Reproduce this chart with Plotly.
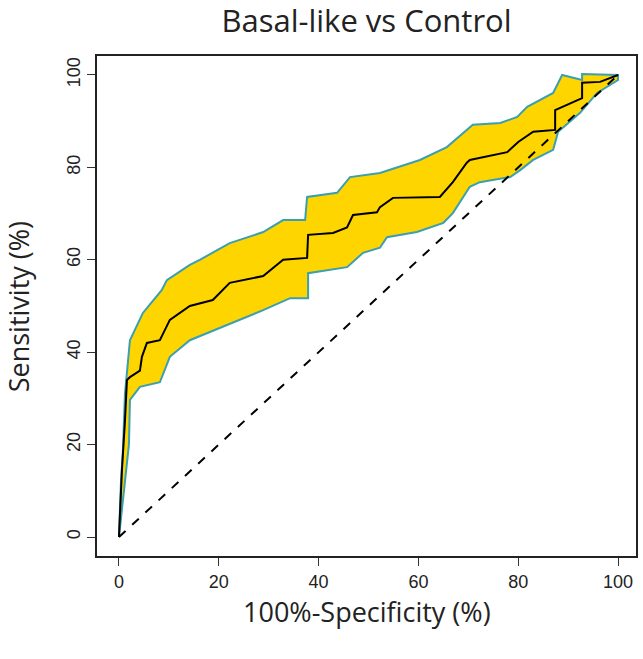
import plotly.graph_objects as go

# ROC curve (100%-specificity, sensitivity)
roc_x = [0, 0.6, 1.2, 1.6, 2.2, 4.2, 4.6, 5.6, 8.2, 10.2, 14.2, 18.8, 22.2, 28.9,
         32.9, 37.7, 37.9, 42.9, 45.7, 46.9, 51.7, 52.3, 54.9, 64.3, 66.9, 69.7,
         70.3, 77.8, 80.0, 83.0, 87.4, 87.4, 92.8, 92.8, 96.4, 100]
roc_y = [0, 14.5, 25, 34, 34.6, 36, 39, 42, 42.6, 47, 50, 51.3, 55, 56.5,
         60, 60.4, 65.4, 65.8, 67, 69.7, 70.3, 71.4, 73.4, 73.6, 76.8, 81,
         81.6, 83.3, 85.5, 87.7, 88.1, 92.4, 95, 98.3, 98.5, 100]

# confidence band, upper edge
up_x = [0, 0.4, 0.8, 1.2, 2.2, 4.2, 4.8, 5.8, 8.6, 9.6, 14.2, 16.2, 22.2, 28.9,
        32.9, 37.3, 37.7, 43.7, 46.3, 52.3, 60.3, 65.7, 69.7, 70.9, 76.4, 79.8,
        81.8, 87.0, 88.8, 92.8, 92.8, 100]
up_y = [0, 12, 19, 31, 42.6, 47, 48.5, 49.8, 53.5, 55.6, 58.9, 60, 63.6, 66,
        68.6, 68.6, 73.6, 74.5, 77.9, 78.8, 81.6, 84.4, 88.1, 89.2, 89.6, 90.9,
        93.1, 96.1, 100, 98.9, 100.2, 100]

# confidence band, lower edge
lo_x = [0, 1.0, 2.0, 2.2, 4.2, 8.2, 10.2, 14.2, 20.8, 28.9, 34.3, 37.9, 37.9,
        45.7, 48.9, 52.3, 53.7, 59.7, 65.0, 66.9, 70.3, 72.3, 78.4, 80.4, 83.0,
        87.0, 88.0, 92.4, 95.8, 100]
lo_y = [0, 10, 20, 29.7, 32.5, 33.5, 39, 42.6, 45.5, 49.1, 51.7, 51.7, 57.1,
        58.4, 61.5, 62.6, 64.9, 66, 68, 70.1, 75.8, 76.8, 77.9, 79.4, 81.6,
        83.8, 87.7, 91.8, 96.1, 98.9]

x_ticks = [0, 20, 40, 60, 80, 100]
y_ticks = [0, 20, 40, 60, 80, 100]

fig = go.Figure()

fig.add_trace(go.Scatter(
    x=up_x + lo_x[::-1], y=up_y + lo_y[::-1],
    fill="toself", fillcolor="#FFD500",
    line=dict(color="#3a9fb0", width=2),
    mode="lines", hoverinfo="skip"
))

fig.add_trace(go.Scatter(
    x=[0, 100], y=[0, 100], mode="lines",
    line=dict(color="black", width=2, dash="dash")
))

fig.add_trace(go.Scatter(
    x=roc_x, y=roc_y, mode="lines",
    line=dict(color="black", width=2)
))

axis_font = dict(family="Liberation Sans, Arial", size=18, color="#222")

fig.update_layout(
    width=643, height=659,
    margin=dict(l=97, r=7, t=56, b=103),
    plot_bgcolor="white", paper_bgcolor="white",
    showlegend=False,
    title=dict(text="Basal-like vs Control", x=0.5, xref="paper",
               y=1 - 21 / 659, yref="container", yanchor="middle",
               font=dict(family="Open Sans", size=31, color="#222")),
    xaxis=dict(range=[-4.4, 103.6], tickvals=x_ticks, ticks="outside",
               ticklen=8, tickcolor="#333", showgrid=False, zeroline=False,
               showline=True, mirror=True, linecolor="#222", linewidth=2,
               tickfont=axis_font, automargin=False),
    yaxis=dict(range=[-4.1, 104.1], tickvals=y_ticks, ticks="outside",
               ticklen=8, tickcolor="#333", showgrid=False, zeroline=False,
               showline=True, mirror=True, linecolor="#222", linewidth=2,
               tickangle=-90, tickfont=axis_font, automargin=False),
    annotations=[
        dict(text="100%-Specificity (%)", x=0.5, y=-0.11, xref="paper",
             yref="paper", xanchor="center", yanchor="middle", showarrow=False,
             font=dict(family="Open Sans", size=27, color="#222")),
        dict(text="Sensitivity (%)", x=-0.146, y=0.498, xref="paper",
             yref="paper", xanchor="center", yanchor="middle", showarrow=False,
             textangle=-90,
             font=dict(family="Open Sans", size=27, color="#222")),
    ],
)

fig.write_html("out.html", config={"displayModeBar": False},
               post_script="document.body.style.margin='0';"
                           "document.body.style.overflow='hidden';")
